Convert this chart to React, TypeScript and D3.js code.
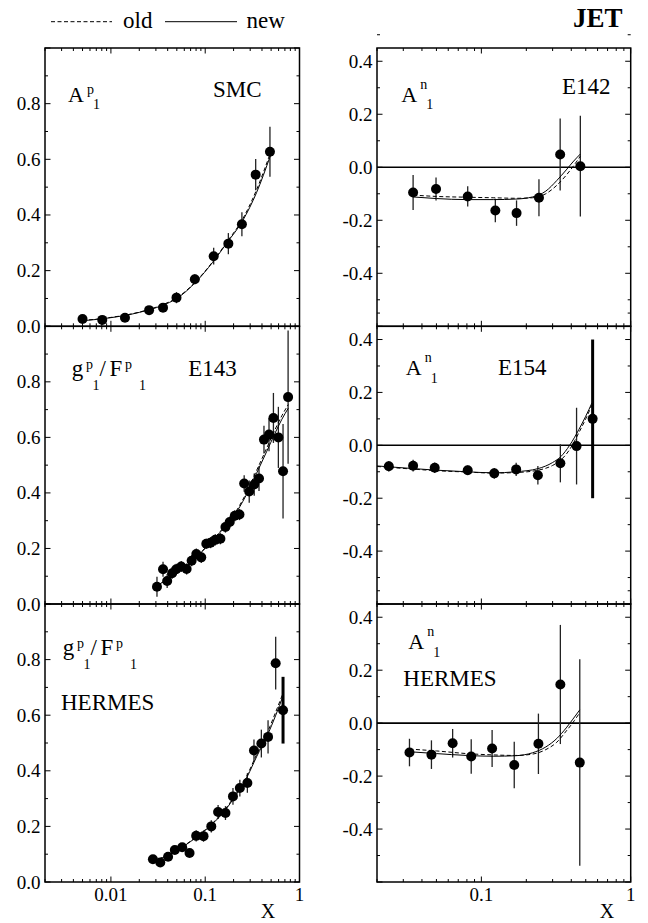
import React from 'react';
import * as d3 from 'd3';

const FONT = '"Liberation Serif", "Times New Roman", Times, "DejaVu Serif", serif';

// ---- SMC, A1p ----
const smcX = [0.005, 0.0081, 0.0141, 0.0254, 0.0357, 0.0496, 0.0776, 0.123, 0.176, 0.245, 0.343, 0.486];
const smcY = [0.026, 0.023, 0.031, 0.058, 0.067, 0.103, 0.169, 0.252, 0.297, 0.367, 0.545, 0.627];
const smcErr = [0.008, 0.008, 0.008, 0.012, 0.015, 0.02, 0.018, 0.03, 0.038, 0.043, 0.056, 0.09];
const smcNew = [[0.005, 0.02], [0.01, 0.031], [0.02, 0.05], [0.035, 0.075], [0.05, 0.1], [0.08, 0.16], [0.12, 0.23], [0.17, 0.3], [0.25, 0.38], [0.35, 0.48], [0.49, 0.612]];
const smcOld = [[0.005, 0.021], [0.01, 0.032], [0.02, 0.051], [0.035, 0.077], [0.05, 0.102], [0.08, 0.162], [0.12, 0.232], [0.17, 0.303], [0.25, 0.386], [0.35, 0.49], [0.49, 0.622]];

// ---- E143, g1p/F1p ----
const e143X = [0.0308, 0.0357, 0.0395, 0.0446, 0.0493, 0.0557, 0.0635, 0.0718, 0.0805, 0.0908, 0.1027, 0.114, 0.128, 0.145, 0.164, 0.182, 0.206, 0.231, 0.259, 0.293, 0.331, 0.372, 0.42, 0.475, 0.529, 0.597, 0.669, 0.757];
const e143Y = [0.062, 0.125, 0.083, 0.111, 0.125, 0.135, 0.126, 0.156, 0.18, 0.168, 0.217, 0.221, 0.231, 0.235, 0.277, 0.295, 0.318, 0.322, 0.434, 0.405, 0.43, 0.452, 0.592, 0.61, 0.67, 0.6, 0.478, 0.745];
const e143Err = [0.036, 0.027, 0.025, 0.02, 0.02, 0.02, 0.02, 0.02, 0.02, 0.02, 0.018, 0.02, 0.02, 0.02, 0.02, 0.02, 0.02, 0.02, 0.03, 0.04, 0.04, 0.045, 0.05, 0.06, 0.09, 0.11, 0.17, 0.24];
const e143New = [[0.03, 0.065], [0.05, 0.11], [0.07, 0.15], [0.1, 0.2], [0.15, 0.265], [0.2, 0.315], [0.27, 0.39], [0.35, 0.47], [0.45, 0.55], [0.55, 0.615], [0.65, 0.665], [0.76, 0.705]];
const e143Old = [[0.03, 0.066], [0.05, 0.111], [0.07, 0.151], [0.1, 0.202], [0.15, 0.268], [0.2, 0.32], [0.27, 0.397], [0.35, 0.48], [0.45, 0.562], [0.55, 0.628], [0.65, 0.678], [0.76, 0.718]];

// ---- HERMES, g1p/F1p ----
const hpX = [0.0279, 0.0334, 0.0404, 0.0476, 0.057, 0.0682, 0.0802, 0.096, 0.116, 0.137, 0.164, 0.197, 0.233, 0.28, 0.329, 0.394, 0.464, 0.559, 0.669];
const hpY = [0.082, 0.07, 0.091, 0.115, 0.125, 0.104, 0.166, 0.165, 0.2, 0.252, 0.248, 0.308, 0.338, 0.356, 0.473, 0.498, 0.522, 0.787, 0.618];
const hpErr = [0.01, 0.01, 0.012, 0.012, 0.012, 0.012, 0.02, 0.02, 0.022, 0.025, 0.025, 0.03, 0.03, 0.035, 0.04, 0.05, 0.06, 0.095, 0.12];
const hpNew = [[0.0275, 0.075], [0.04, 0.095], [0.06, 0.13], [0.08, 0.16], [0.116, 0.205], [0.16, 0.255], [0.2, 0.3], [0.28, 0.38], [0.35, 0.45], [0.46, 0.53], [0.56, 0.6], [0.67, 0.67]];
const hpOld = [[0.0275, 0.076], [0.04, 0.096], [0.06, 0.131], [0.08, 0.162], [0.116, 0.207], [0.16, 0.258], [0.2, 0.304], [0.28, 0.386], [0.35, 0.458], [0.46, 0.54], [0.56, 0.612], [0.67, 0.68]];

// ---- E142, A1n ----
const e142X = [0.0349, 0.0497, 0.081, 0.124, 0.172, 0.243, 0.337, 0.46];
const e142Y = [-0.095, -0.082, -0.11, -0.163, -0.173, -0.115, 0.048, 0.004];
const e142Err = [0.066, 0.043, 0.038, 0.044, 0.048, 0.07, 0.136, 0.19];
const e142New = [[0.035, -0.112], [0.05, -0.118], [0.08, -0.122], [0.12, -0.122], [0.17, -0.12], [0.22, -0.112], [0.27, -0.09], [0.32, -0.05], [0.37, -0.01], [0.41, 0.02], [0.46, 0.05]];
const e142Old = [[0.035, -0.105], [0.05, -0.11], [0.08, -0.113], [0.12, -0.115], [0.17, -0.117], [0.22, -0.115], [0.27, -0.1], [0.32, -0.068], [0.37, -0.03], [0.42, 0.01], [0.46, 0.042]];

// ---- E154, A1n ----
const e154X = [0.024, 0.0349, 0.0487, 0.081, 0.122, 0.171, 0.239, 0.338, 0.434, 0.556];
const e154Y = [-0.079, -0.077, -0.085, -0.094, -0.106, -0.091, -0.113, -0.068, -0.003, 0.1];
const e154Err = [0.02, 0.022, 0.02, 0.018, 0.02, 0.025, 0.035, 0.072, 0.145, 0.3];
const e154New = [[0.02, -0.078], [0.035, -0.088], [0.05, -0.094], [0.08, -0.1], [0.12, -0.104], [0.17, -0.1], [0.24, -0.088], [0.3, -0.065], [0.34, -0.043], [0.39, 0], [0.45, 0.06], [0.5, 0.11], [0.55, 0.16]];
const e154Old = [[0.02, -0.08], [0.035, -0.09], [0.05, -0.096], [0.08, -0.101], [0.12, -0.105], [0.17, -0.103], [0.24, -0.094], [0.3, -0.076], [0.34, -0.056], [0.39, -0.016], [0.45, 0.048], [0.5, 0.1], [0.55, 0.152]];

// ---- HERMES, A1n ----
const hnX = [0.033, 0.0463, 0.0642, 0.0855, 0.118, 0.166, 0.241, 0.338, 0.456];
const hnY = [-0.111, -0.119, -0.076, -0.126, -0.096, -0.158, -0.078, 0.146, -0.149];
const hnErr = [0.052, 0.054, 0.054, 0.065, 0.07, 0.088, 0.114, 0.225, 0.39];
const hnNew = [[0.033, -0.108], [0.05, -0.115], [0.08, -0.122], [0.12, -0.125], [0.17, -0.123], [0.22, -0.112], [0.27, -0.09], [0.32, -0.058], [0.37, -0.018], [0.41, 0.015], [0.456, 0.05]];
const hnOld = [[0.033, -0.098], [0.05, -0.105], [0.08, -0.115], [0.12, -0.12], [0.17, -0.122], [0.22, -0.117], [0.27, -0.1], [0.32, -0.072], [0.37, -0.03], [0.42, 0.01], [0.456, 0.04]];

const leftYLabels = [0, 0.2, 0.4, 0.6, 0.8];
const rightYLabels = [-0.4, -0.2, 0, 0.2, 0.4];
const leftXLabels = [0.01, 0.1, 1];
const rightXLabels = [0.1, 1];

type Lbl = { t: string; x: number; y: number; s: number };

function Panel(props: any) {
  const { left, right, top, bottom, xDomain, yDomain, xs, ys, errs, boldLast, curveNew, curveOld, zero, yLabels, xLabels, labels } = props;
  const x = d3.scaleLog().domain(xDomain).range([left, right]);
  const y = d3.scaleLinear().domain(yDomain).range([bottom, top]);

  const line = d3.line<number[]>().x(d => x(d[0])).y(d => y(d[1])).curve(d3.curveMonotoneX);

  // y ticks every 0.1, longer every 0.2
  const lo = Math.round(yDomain[0] * 10), hi = Math.round(yDomain[1] * 10);
  const yTicks = d3.range(lo, hi + 1).map(i => ({ v: i / 10, major: i % 2 === 0 }));

  // log x ticks
  const xTicks: { v: number; major: boolean }[] = [];
  const k0 = Math.floor(Math.log10(xDomain[0]) + 1e-9);
  for (let k = k0; k <= 0; k++) {
    for (let m = 1; m <= 9; m++) {
      const v = m * Math.pow(10, k);
      if (v >= xDomain[0] * 0.999 && v <= xDomain[1] * 1.001) xTicks.push({ v, major: m === 1 });
    }
  }

  return (
    <g>
      {zero && <line x1={left} x2={right} y1={y(0)} y2={y(0)} stroke="#000" strokeWidth={1.6} />}
      {yTicks.map((t, i) => {
        const len = t.major ? 5.5 : 3;
        return (
          <g key={'y' + i}>
            <line x1={left} x2={left + len} y1={y(t.v)} y2={y(t.v)} stroke="#000" strokeWidth={1} />
            <line x1={right} x2={right - len} y1={y(t.v)} y2={y(t.v)} stroke="#000" strokeWidth={1} />
          </g>
        );
      })}
      {xTicks.map((t, i) => {
        const len = t.major ? 5.5 : 3;
        return (
          <g key={'x' + i}>
            <line x1={x(t.v)} x2={x(t.v)} y1={bottom} y2={bottom - len} stroke="#000" strokeWidth={1} />
            <line x1={x(t.v)} x2={x(t.v)} y1={top} y2={top + len} stroke="#000" strokeWidth={1} />
          </g>
        );
      })}
      <rect x={left} y={top} width={right - left} height={bottom - top} fill="none" stroke="#000" strokeWidth={1.5} />
      {yLabels.map((v: number) => (
        <text key={'yl' + v} x={left - 4.5} y={y(v) + 6.5} textAnchor="end" fontSize={19}>{(Math.abs(v) < 1e-9 ? 0 : v).toFixed(1)}</text>
      ))}
      {xLabels && xLabels.map((v: number) => (
        <text key={'xl' + v} x={x(v)} y={901} textAnchor="middle" fontSize={19}>{String(v)}</text>
      ))}
      {xs.map((v: number, i: number) => {
        const bold = boldLast && i === xs.length - 1;
        return (
          <line key={'e' + i} x1={x(v)} x2={x(v)} y1={y(ys[i] - errs[i])} y2={y(ys[i] + errs[i])}
            stroke={bold ? '#000' : '#222'} strokeWidth={bold ? 3 : 1.3} />
        );
      })}
      <path d={line(curveOld) || ''} fill="none" stroke="#000" strokeWidth={1} strokeDasharray="4,2.5" />
      <path d={line(curveNew) || ''} fill="none" stroke="#000" strokeWidth={1} />
      {xs.map((v: number, i: number) => (
        <circle key={'p' + i} cx={x(v)} cy={y(ys[i])} r={5} fill="#000" />
      ))}
      {labels.map((l: Lbl, i: number) => (
        <text key={'l' + i} x={l.x} y={l.y} fontSize={l.s}>{l.t}</text>
      ))}
    </g>
  );
}

function gLabels(dx: number, dy: number): Lbl[] {
  return [
    { t: 'g', x: 71.7 + dx, y: 375.7 + dy, s: 23 },
    { t: 'p', x: 86 + dx, y: 368.5 + dy, s: 14 },
    { t: '1', x: 92.5 + dx, y: 390 + dy, s: 14 },
    { t: '/', x: 99.5 + dx, y: 375.7 + dy, s: 23 },
    { t: 'F', x: 109.5 + dx, y: 375.7 + dy, s: 23 },
    { t: 'p', x: 125 + dx, y: 368.5 + dy, s: 14 },
    { t: '1', x: 139 + dx, y: 390 + dy, s: 14 },
  ];
}

function aLabels(x0: number, b: number, sup: string, supDy: number): Lbl[] {
  return [
    { t: 'A', x: x0, y: b, s: 22 },
    { t: sup, x: x0 + 19, y: b + supDy, s: 14 },
    { t: '1', x: x0 + 25, y: b + 7.5, s: 14 },
  ];
}

export default function App() {
  const L = [45, 299.5];
  const R = [377, 630.7];
  const rows = [48, 326.3, 604, 882];
  const lDom = [0.002, 1];
  const rDom = [0.02, 1];
  const lY = [0, 1.0];
  const rY = [-0.6, 0.45];

  return (
    <svg width={648} height={923}
      style={{ position: 'absolute', left: 0, top: 0, background: '#fff', fontFamily: FONT }}>
      <rect x={0} y={0} width={648} height={923} fill="#fff" />
      {/* legend */}
      <line x1={51} x2={112} y1={21.7} y2={21.7} stroke="#000" strokeWidth={1} strokeDasharray="4,2.5" />
      <text x={123} y={28.3} fontSize={23}>old</text>
      <line x1={165} x2={237} y1={21.7} y2={21.7} stroke="#000" strokeWidth={1} />
      <text x={246.5} y={28.3} fontSize={23}>new</text>
      <text x={573} y={27} fontSize={27} fontWeight="bold">JET</text>

      <Panel left={L[0]} right={L[1]} top={rows[0]} bottom={rows[1]} xDomain={lDom} yDomain={lY}
        xs={smcX} ys={smcY} errs={smcErr} curveNew={smcNew} curveOld={smcOld} yLabels={leftYLabels}
        labels={[...aLabels(68, 101.7, 'p', -8), { t: 'SMC', x: 213, y: 97.3, s: 23 }]} />
      <Panel left={L[0]} right={L[1]} top={rows[1]} bottom={rows[2]} xDomain={lDom} yDomain={lY}
        xs={e143X} ys={e143Y} errs={e143Err} curveNew={e143New} curveOld={e143Old} yLabels={leftYLabels}
        labels={[...gLabels(0, 0), { t: 'E143', x: 188.3, y: 375.7, s: 23 }]} />
      <Panel left={L[0]} right={L[1]} top={rows[2]} bottom={rows[3]} xDomain={lDom} yDomain={lY}
        xs={hpX} ys={hpY} errs={hpErr} boldLast curveNew={hpNew} curveOld={hpOld} yLabels={leftYLabels}
        xLabels={leftXLabels}
        labels={[...gLabels(-9, 279), { t: 'HERMES', x: 61, y: 710, s: 23 }]} />

      <Panel left={R[0]} right={R[1]} top={rows[0]} bottom={rows[1]} xDomain={rDom} yDomain={rY} zero
        xs={e142X} ys={e142Y} errs={e142Err} curveNew={e142New} curveOld={e142Old} yLabels={rightYLabels}
        labels={[...aLabels(401.3, 101.7, 'n', -13), { t: 'E142', x: 562, y: 94, s: 23 }]} />
      <Panel left={R[0]} right={R[1]} top={rows[1]} bottom={rows[2]} xDomain={rDom} yDomain={rY} zero
        xs={e154X} ys={e154Y} errs={e154Err} boldLast curveNew={e154New} curveOld={e154Old} yLabels={rightYLabels}
        labels={[...aLabels(405.7, 375, 'n', -13), { t: 'E154', x: 498, y: 375, s: 23 }]} />
      <Panel left={R[0]} right={R[1]} top={rows[2]} bottom={rows[3]} xDomain={rDom} yDomain={rY} zero
        xs={hnX} ys={hnY} errs={hnErr} curveNew={hnNew} curveOld={hnOld} yLabels={rightYLabels}
        xLabels={rightXLabels}
        labels={[...aLabels(408.3, 649.3, 'n', -13), { t: 'HERMES', x: 403.3, y: 685.7, s: 23 }]} />

      <text x={268} y={918} textAnchor="middle" fontSize={20}>X</text>
      <text x={607} y={918} textAnchor="middle" fontSize={20}>X</text>
    </svg>
  );
}
